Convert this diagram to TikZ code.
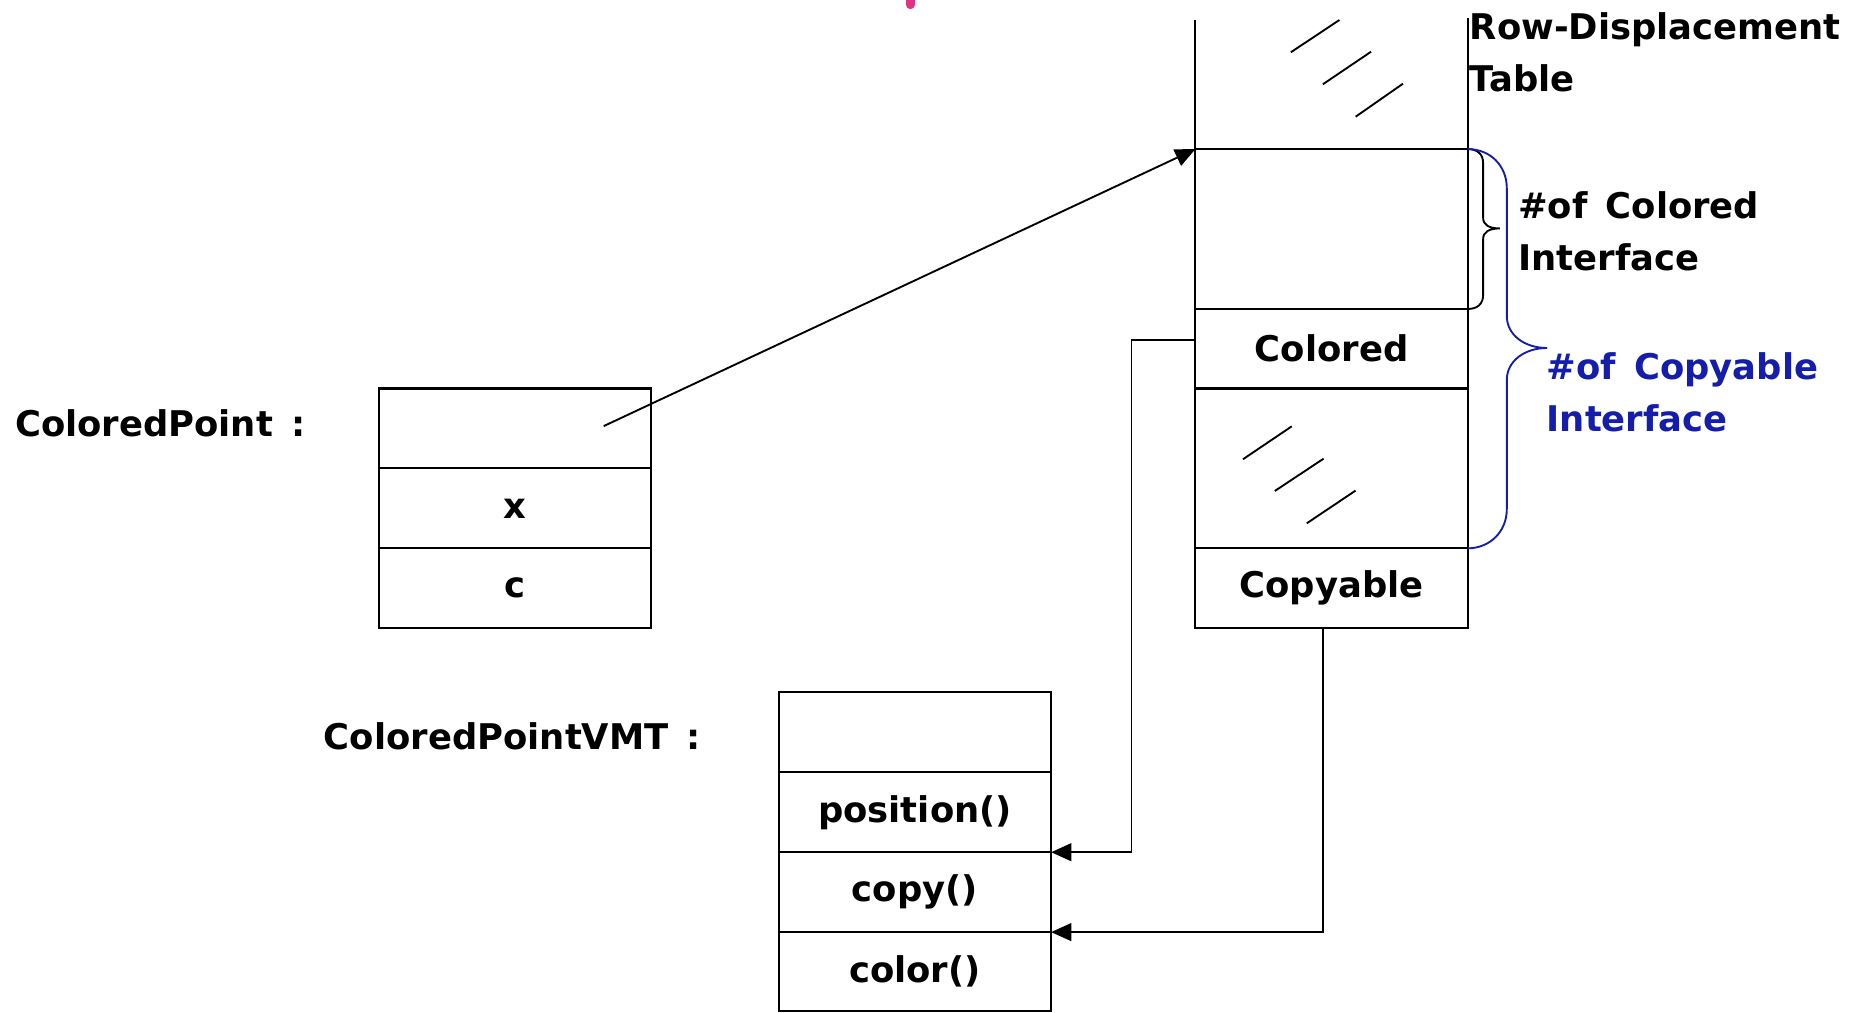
\documentclass[tikz,border=0pt]{standalone}
\usepackage{fontspec}
\setmainfont{DejaVu Sans}
\usetikzlibrary{arrows.meta}
\definecolor{braceblue}{RGB}{20,30,170}
\definecolor{pinkmark}{RGB}{228,50,130}
\tikzset{
  lbl/.style={font=\bfseries\fontsize{8.5}{12.5}\selectfont, inner sep=0pt, align=left},
  cell/.style={draw, line width=0.5pt, minimum width=2.3cm, inner sep=0pt, outer sep=0pt,
               font=\bfseries\fontsize{8.5}{12.5}\selectfont},
  rowS/.style={cell, minimum height=0.675cm},
  rowL/.style={cell, minimum height=1.35cm},
  arr/.style={line width=0.45pt, -{Triangle[length=0.17cm,width=0.15cm]}},
  hatch/.style={line width=0.45pt},
  bracel/.style={line width=0.45pt}
}
\begin{document}
\begin{tikzpicture}[x=0.01cm, y=-0.01cm]
\useasboundingbox (0,0) rectangle (1568,855);

% pink mark cut at the top
\draw[pinkmark, line width=0.075cm, line cap=round] (769,-10) -- (769,4);

% ColoredPoint object
\node[lbl, anchor=west] (cplabel) at (12,358) {ColoredPoint \,:};
\node[rowS] (cp1) at (435,362) {};
\node[rowS] (cp2) at (435,429.5) {x};
\node[rowS] (cp3) at (435,496.75) {c};
\coordinate (cpptr) at (510,360);

% Row-displacement table
\node[rowL] (rd1) at (1125,193.5) {};
\node[rowS] (rd2) at (1125,294.5) {Colored};
\node[rowL] (rd3) at (1125,395.75) {};
\node[rowS] (rd4) at (1125,496.75) {Copyable};
\draw[line width=0.5pt] (rd1.north west) -- ++(0,-109);
\draw[line width=0.5pt] (rd1.north east) -- ++(0,-111);
\node[lbl, anchor=west] (rdlabel) at (1241,44) {Row-Displacement\\Table};

% hatch marks
\draw[hatch] (1090.5,44.2) -- (1131.6,16.9);
\draw[hatch] (1117.6,71.2) -- (1158.3,43.7);
\draw[hatch] (1145.3,98.6) -- (1185.3,70.7);
\draw[hatch] (1050.1,388.0) -- (1091.3,360.2);
\draw[hatch] (1077.0,414.8) -- (1118.2,387.5);
\draw[hatch] (1104.0,442.1) -- (1145.2,414.5);

% braces
\draw[bracel] (rd1.north east) .. controls (1248,126) and (1253,130) .. (1253,138)
  -- (1253,184) .. controls (1253,190) and (1258,193) .. (1267,193)
  .. controls (1258,193) and (1253,196) .. (1253,202)
  -- (1253,249) .. controls (1253,257) and (1248,261) .. (rd1.south east);
\node[lbl, anchor=west] (collabel) at (1282,195.5) {\#of \,Colored\\Interface};

\draw[braceblue, bracel] (rd1.north east) .. controls (1259,126) and (1273,140) .. (1273,159)
  -- (1273,267) .. controls (1273,283) and (1288,294) .. (1307,294)
  .. controls (1288,294) and (1273,305) .. (1273,321)
  -- (1273,430) .. controls (1273,449) and (1259,463) .. (rd3.south east);
\node[lbl, anchor=west, text=braceblue] (coplabel) at (1306,331.5) {\#of \,Copyable\\Interface};

% VMT
\node[lbl, anchor=west] (vmtlabel) at (273,622) {ColoredPointVMT \,:};
\node[rowS] (vmt1) at (773,618.75) {};
\node[rowS] (vmt2) at (773,686.25) {position()};
\node[rowS] (vmt3) at (773,753.75) {copy()};
\node[cell, minimum height=0.665cm] (vmt4) at (773,820.75) {color()};

% connectors
\draw[arr] (cpptr) -- (rd1.north west);
\draw[arr] ([yshift=0.07cm]rd2.west) -- ++(-54,0) |- (vmt3.north east);
\draw[arr] ([xshift=-0.075cm]rd4.south) |- (vmt4.north east);
\end{tikzpicture}
\end{document}
